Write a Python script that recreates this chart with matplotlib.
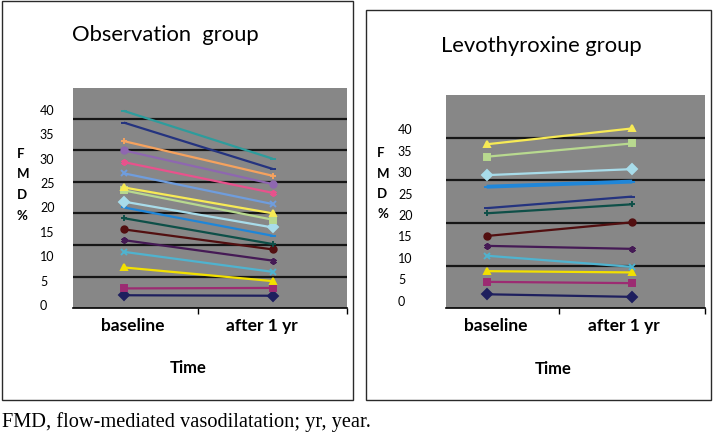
import matplotlib
matplotlib.use("Agg")
import matplotlib.pyplot as plt
from matplotlib.patches import Rectangle
import numpy as np

W, H = 713, 434

categories = ["baseline", "after 1 yr"]
y_tick_values = [0, 5, 10, 15, 20, 25, 30, 35, 40]

# Observation group: (baseline, after 1 yr)
obs_baseline = [2.0, 3.4, 7.7, 10.9, 13.3, 15.5, 17.8, 20.0, 21.2, 23.5, 24.1, 27.0, 29.3, 31.7, 33.6, 37.4, 39.8]
obs_after    = [1.9, 3.5, 4.9, 6.8, 9.1, 11.4, 12.5, 14.2, 15.9, 17.5, 18.8, 20.7, 23.0, 24.8, 26.5, 27.9, 30.0]

# Levothyroxine group
levo_baseline = [1.5, 4.4, 6.9, 10.5, 12.8, 15.1, 20.4, 21.6, 26.6, 29.3, 33.6, 36.5]
levo_after    = [0.9, 4.1, 6.6, 7.9, 12.1, 18.3, 22.5, 24.3, 27.8, 30.7, 36.7, 40.2]

obs_colors = ["#1e1f5e", "#9c2b72", "#f2e000", "#4fb3cf", "#451a55", "#520f10",
              "#0e4f48", "#1f86d8", "#a8dcea", "#b8d98f", "#f7ea55", "#6f9ddd",
              "#e8528c", "#8e67b0", "#f5a25e", "#24337f", "#2e9c9c"]
obs_markers = ["D", "s", "^", "x", (6, 2, 0), "o", "+", "_", "D", "s", "^", "x",
               (6, 2, 0), "o", "+", "_", "_"]

levo_colors = ["#1e1f5e", "#9c2b72", "#f2e000", "#4fb3cf", "#451a55", "#520f10",
               "#0e4f48", "#24337f", "#1f86d8", "#a8dcea", "#b8d98f", "#f7ea55"]
levo_markers = ["D", "s", "^", "x", (6, 2, 0), "o", "+", "_", "_", "D", "s", "^"]
levo_lw = [1.6] * 8 + [2.8] + [1.6] * 3

BG = "#878787"
FONT = "Lato"

fig = plt.figure(figsize=(W / 100, H / 100), dpi=100)
fig.patch.set_facecolor("white")


def fx(x):
    return x / W


def fy(y):
    return 1 - y / H


def add_box(x0, y0, x1, y1):
    fig.patches.append(Rectangle((fx(x0), fy(y1)), fx(x1) - fx(x0), fy(y0) - fy(y1),
                                 transform=fig.transFigure, fill=False,
                                 edgecolor="#2a2a2a", linewidth=1.0))


def make_panel(rect_px, ylim, xlim, nint, base, after, colors, markers, lws,
               label_pad, label_pos, time_xy, title, title_xy, fmd_x, fmd_y0):
    x0, y0, x1, y1 = rect_px
    ax = fig.add_axes([fx(x0), fy(y1), fx(x1) - fx(x0), fy(y0) - fy(y1)])
    ax.set_facecolor(BG)
    xs = [0, 1]
    for b, a, c, m, lw in zip(base, after, colors, markers, lws):
        ax.plot(xs, [b, a], color=c, lw=lw, marker=m, markersize=4.6,
                markeredgewidth=1.4, markerfacecolor=c, markeredgecolor=c,
                solid_capstyle="butt", zorder=3)
    ax.set_xlim(*xlim)
    ax.set_ylim(*ylim)
    grid = np.linspace(ylim[0], ylim[1], nint + 1)[1:-1]
    ax.set_yticks(grid)
    ax.set_yticklabels([])
    ax.tick_params(axis="y", which="major", length=0)
    ax.yaxis.grid(True, which="major", color="#161616", lw=1.6, zorder=1)
    ax.set_yticks(y_tick_values, minor=True)
    ax.set_yticklabels([str(v) for v in y_tick_values], minor=True,
                       fontfamily=FONT, fontsize=9, ha="left")
    ax.tick_params(axis="y", which="minor", length=0, pad=label_pad)
    ax.set_xticks([0.5, 1.5])
    ax.set_xticklabels([])
    ax.tick_params(axis="x", which="major", length=4.5, width=1.0, color="black")
    ax.set_xticks(label_pos, minor=True)
    ax.set_xticklabels(categories, minor=True, fontfamily=FONT, fontsize=12.5,
                       fontweight="bold")
    ax.tick_params(axis="x", which="minor", length=0, pad=7)
    for s in ["top", "left", "right"]:
        ax.spines[s].set_visible(False)
    ax.spines["bottom"].set_color("black")
    ax.spines["bottom"].set_linewidth(1.2)
    ax.set_axisbelow(True)
    fig.text(fx(time_xy[0]), fy(time_xy[1]), "Time", ha="center", va="center",
             fontfamily=FONT, fontsize=12, fontweight="bold")
    fig.text(fx(title_xy[0]), fy(title_xy[1]), title, ha="left", va="center",
             fontfamily=FONT, fontsize=15.8)
    for i, ch in enumerate(["F", "M", "D", "%"]):
        fig.text(fx(fmd_x), fy(fmd_y0 + i * 20.5), ch, ha="left", va="center",
                 fontfamily=FONT, fontsize=9.5, fontweight="bold")
    return ax


add_box(2, 1, 353, 400)
add_box(366, 10, 711, 400)

make_panel((73, 87.5, 347, 308), (-0.615, 44.6), (-0.342, 1.5), 7,
           obs_baseline, obs_after, obs_colors, obs_markers, [1.6] * 17,
           23.8, [0.06, 0.93], (188, 368), "Observation  group", (72, 35), 16.5, 154)

make_panel((446, 95, 705, 308.3), (-1.77, 48.0), (-0.279, 1.5), 5,
           levo_baseline, levo_after, levo_colors, levo_markers, levo_lw,
           34.6, [0.06, 0.94], (553, 369), "Levothyroxine group", (441, 46), 377, 153)

fig.text(fx(2), fy(422), "FMD, flow-mediated vasodilatation; yr, year.",
         ha="left", va="center", fontfamily="Liberation Serif", fontsize=14.7)

fig.savefig("out.png", dpi=100, facecolor="white")
